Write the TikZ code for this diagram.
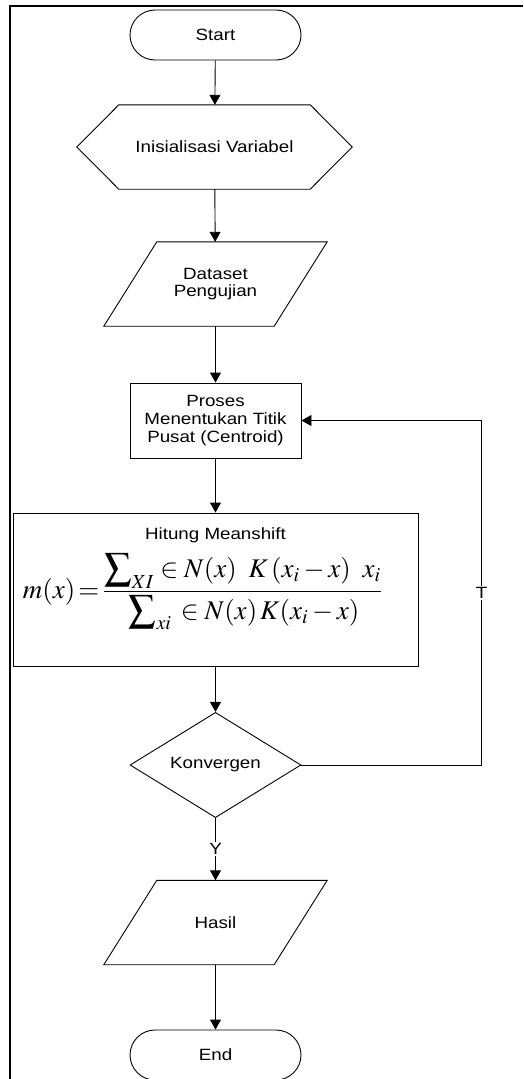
\documentclass[tikz,border=0pt]{standalone}
\usepackage{mathptmx}
\usepackage{graphicx}
\usepackage[no-math]{fontspec}
\setmainfont{Liberation Sans}[FakeStretch=1.15]
\usetikzlibrary{arrows.meta,shapes.misc,shapes.geometric}
\begin{document}
\begin{tikzpicture}[x=1pt,y=-1pt,
  every node/.style={font=\fontsize{16.3}{17.8}\selectfont, align=center},
  ln/.style={line width=0.9pt, draw=black},
  arr/.style={ln, -{Triangle[width=11pt,length=10pt]}},
  term/.style={ln, rounded rectangle, minimum width=171pt, minimum height=50pt, inner sep=0pt},
  procbox/.style={ln, rectangle, minimum width=171pt, minimum height=75pt, inner sep=0pt},
  iobox/.style={minimum width=223pt, minimum height=84pt, inner sep=0pt},
  lbl/.style={fill=white, inner sep=1.5pt}
]
\useasboundingbox (0,0) rectangle (523,1079);
\draw[line width=2.2pt] (10,1079) -- (10,6.2) -- (523,6.2);

% Start
\node[term] (start) at (215.5,35) {Start};

% Hexagon
\node[minimum width=275pt, minimum height=84pt, inner sep=0pt] (init) at (214.5,147) {Inisialisasi Variabel};
\draw[ln] (init.west) -- ([xshift=42pt]init.north west) -- ([xshift=-42pt]init.north east)
  -- (init.east) -- ([xshift=-42pt]init.south east) -- ([xshift=42pt]init.south west) -- cycle;

% Dataset
\node[iobox] (data) at (215.5,284) {Dataset\\Pengujian};
\draw[ln] ([xshift=53pt]data.north west) -- (data.north east) -- ([xshift=-53pt]data.south east) -- (data.south west) -- cycle;

% Process
\node[procbox] (proc) at (215.5,420.5) {Proses\\Menentukan Titik\\Pusat (Centroid)};

% Meanshift
\node[ln, rectangle, minimum width=405pt, minimum height=153pt, inner sep=0pt] (ms) at (215.5,589.5) {};
\node[inner sep=1pt] (mstitle) at (215.5,535) {Hitung Meanshift};
\node[inner sep=0pt] (formula) at (203,592) {\resizebox{360pt}{!}{$\displaystyle m(x)\!=\!\frac{\displaystyle\sum\nolimits_{XI}\in N(x)\;\;K\,(x_i-x)\;\;x_i\rule[-3pt]{0pt}{3pt}}{\rule{0pt}{14pt}\displaystyle\sum\nolimits_{xi}\,\in N(x)\,K(x_i-x)}$}};

% Decision
\node[ln, diamond, minimum width=171pt, minimum height=100pt, inner sep=0pt] (dec) at (215.5,765) {Konvergen};

% Hasil
\node[iobox] (hasil) at (215.5,922.5) {Hasil};
\draw[ln] ([xshift=53pt]hasil.north west) -- (hasil.north east) -- ([xshift=-53pt]hasil.south east) -- (hasil.south west) -- cycle;

% End
\node[term] (end) at (215.5,1055) {End};

% Connectors
\draw[arr] (start) -- (init);
\draw[arr] (init) -- (data);
\draw[arr] (data) -- (proc);
\draw[arr] (proc) -- (ms);
\draw[arr] (ms) -- (dec);
\draw[arr] (dec) -- node[lbl] {Y} (hasil);
\draw[arr] (hasil) -- (end);
\coordinate (fb) at (481.5,765);
\draw[arr] (dec.east) -- (fb) |- node[pos=0.25, lbl] {T} (proc.east);
\end{tikzpicture}
\end{document}
